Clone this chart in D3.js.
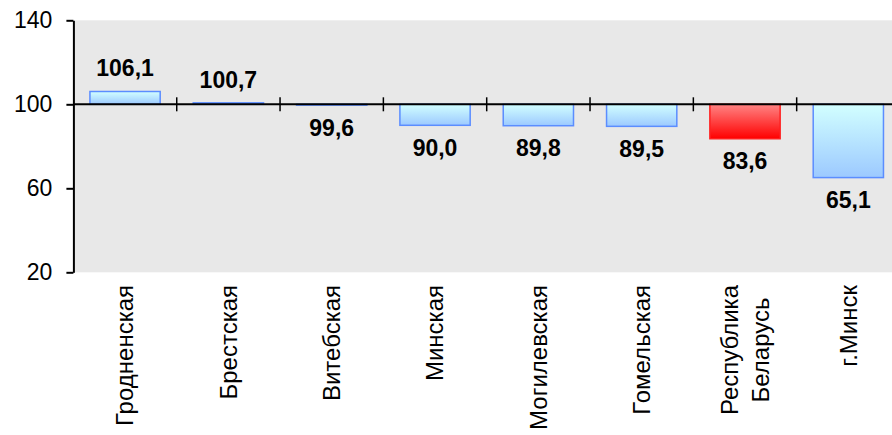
<!DOCTYPE html>
<html><head><meta charset="utf-8">
<script src="https://cdn.jsdelivr.net/npm/d3@7"></script>
<style>body{margin:0;background:#fff}svg{display:block}text{font-family:"Liberation Sans",Arial,sans-serif}</style>
</head><body><svg id="c" width="892" height="435"></svg>
<script>
const categories = [["Гродненская"],["Брестская"],["Витебская"],["Минская"],["Могилевская"],["Гомельская"],["Республика","Беларусь"],["г.Минск"]];
const values = [106.1, 100.7, 99.6, 90.0, 89.8, 89.5, 83.6, 65.1];
const valueLabels = ["106,1","100,7","99,6","90,0","89,8","89,5","83,6","65,1"];
const highlight = [false,false,false,false,false,false,true,false];
const yTicks = [20, 60, 100, 140];
const baseValue = 100;

const svg = d3.select("#c");
const L = 73.4, R = 900, T = 20.3, B = 272.3;
const idx = values.map((d,i)=>i);
const x = d3.scaleBand().domain(idx).range([L, R]).paddingInner(0.32).paddingOuter(0.16);
const y = d3.scaleLinear().domain([20, 140]).range([B, T]);

const defs = svg.append("defs");
const gb = defs.append("linearGradient").attr("id","gBlue").attr("x1",0).attr("y1",0).attr("x2",0).attr("y2",1);
gb.append("stop").attr("offset","0%").attr("stop-color","#d2ffff");
gb.append("stop").attr("offset","100%").attr("stop-color","#9cc9ff");
const gr = defs.append("linearGradient").attr("id","gRed").attr("x1",0).attr("y1",0).attr("x2",0).attr("y2",1);
gr.append("stop").attr("offset","0%").attr("stop-color","#ff8484");
gr.append("stop").attr("offset","100%").attr("stop-color","#ff0000");

svg.append("rect").attr("x", L).attr("y", T).attr("width", R - L).attr("height", B - T).attr("fill", "#e8e8e8");

// bars
svg.selectAll("rect.bar").data(idx).join("rect").attr("class","bar")
  .attr("x", i => x(i))
  .attr("y", i => y(Math.max(values[i], baseValue)))
  .attr("width", x.bandwidth())
  .attr("height", i => Math.abs(y(values[i]) - y(baseValue)))
  .attr("fill", i => highlight[i] ? "url(#gRed)" : "url(#gBlue)")
  .attr("stroke", i => highlight[i] ? "#ff2020" : "#5b8dff")
  .attr("stroke-width", 1.5);

// baseline axis at 100
svg.append("line").attr("x1", L).attr("x2", R).attr("y1", y(baseValue)).attr("y2", y(baseValue))
  .attr("stroke", "#000").attr("stroke-width", 2);
// category separators
const step = x.step();
svg.selectAll("line.sep").data(idx.slice(1)).join("line").attr("class","sep")
  .attr("x1", i => x(i) - step*x.paddingInner()/2).attr("x2", i => x(i) - step*x.paddingInner()/2)
  .attr("y1", y(baseValue) - 7).attr("y2", y(baseValue) + 7)
  .attr("stroke", "#000").attr("stroke-width", 1.5);

// y axis
const ya = svg.append("g").attr("transform", `translate(${L},0)`)
  .call(d3.axisLeft(y).tickValues(yTicks).tickSize(7).tickPadding(14).tickSizeOuter(0));
ya.select(".domain").attr("stroke-width", 2);
ya.selectAll(".tick line").attr("stroke-width", 2);
ya.selectAll(".tick text").attr("font-size", 23).attr("fill", "#000").style("font-family", '"Liberation Sans",Arial,sans-serif');

// value labels
svg.selectAll("text.val").data(idx).join("text").attr("class","val")
  .attr("x", i => x(i) + x.bandwidth()/2)
  .attr("y", i => values[i] >= baseValue ? y(values[i]) - 15 : y(values[i]) + 30.5)
  .attr("text-anchor", "middle").attr("font-size", 23).attr("font-weight", "bold").attr("fill", "#000")
  .text(i => valueLabels[i]);

// category labels (rotated)
const labelTop = 285;
idx.forEach(i => {
  const lines = categories[i];
  const cx = x(i) + x.bandwidth()/2;
  const lh = 30.5;
  const g = svg.append("g");
  const t = g.append("text").attr("font-size", 24).attr("fill", "#000").attr("text-anchor", "middle");
  lines.forEach((s, k) => {
    t.append("tspan").attr("x", 0).attr("y", (k - (lines.length - 1)/2) * lh).attr("dy", "0.35em").text(s);
  });
  let maxLen = 0;
  t.selectAll("tspan").each(function(){ maxLen = Math.max(maxLen, this.getComputedTextLength()); });
  g.attr("transform", `translate(${cx},${labelTop + maxLen/2}) rotate(-90)`);
});
</script></body></html>
